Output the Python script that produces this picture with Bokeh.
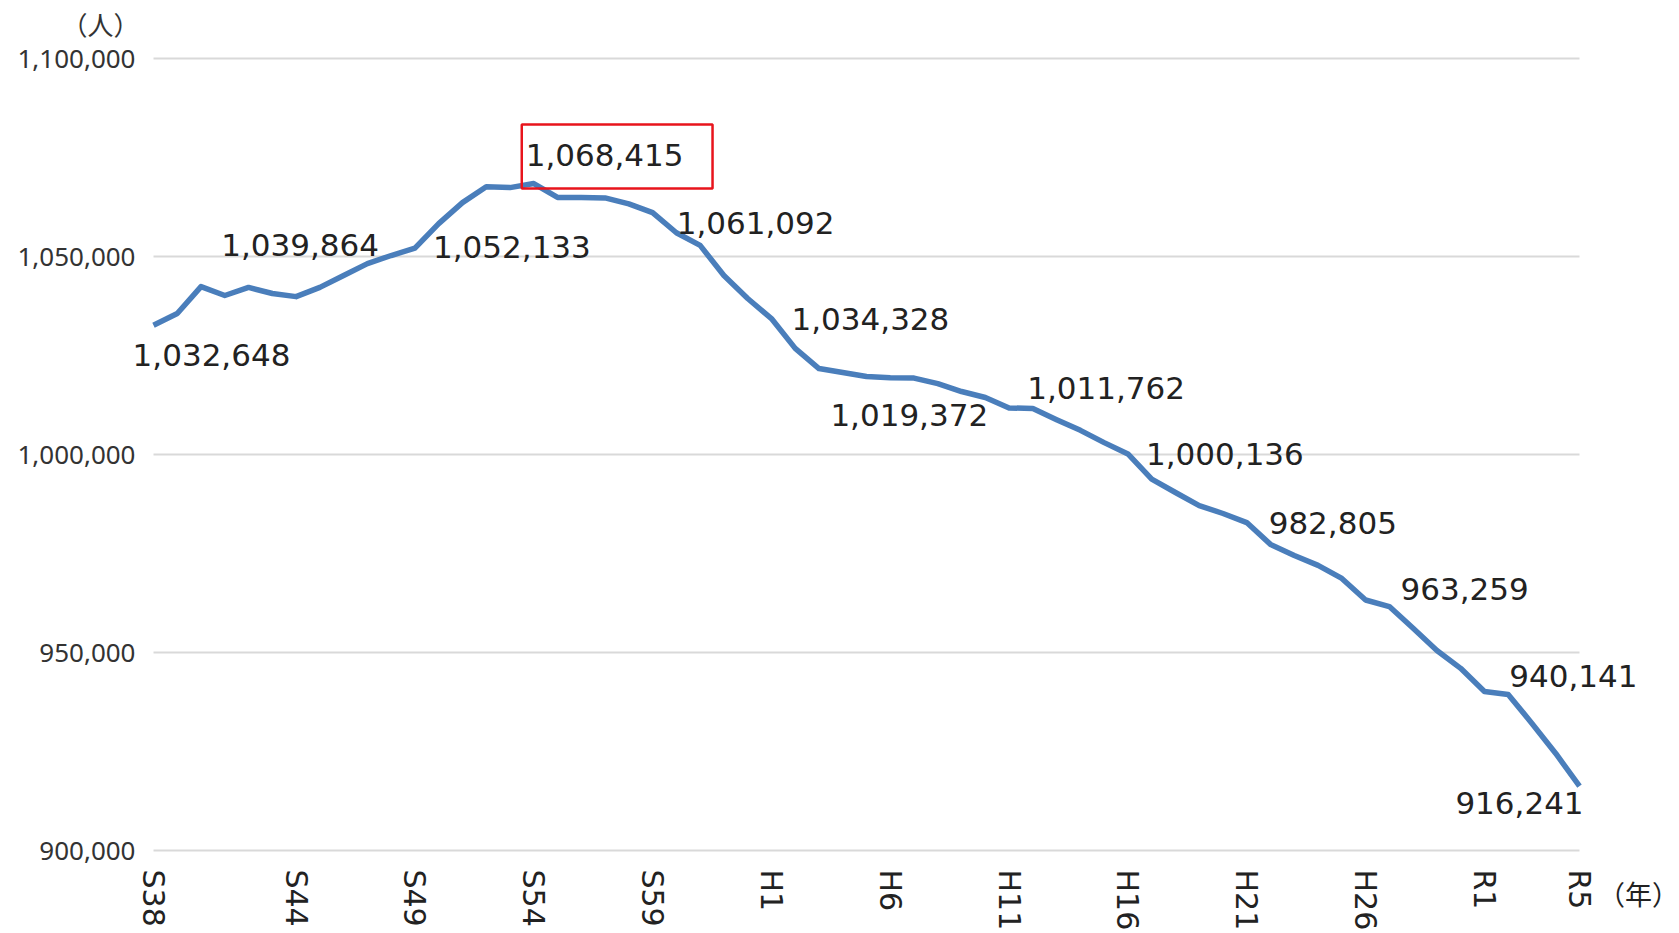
import math
from bokeh.plotting import figure
from bokeh.models import (ColumnDataSource, Range1d, FixedTicker, NumeralTickFormatter,
                          LabelSet, Label)
from bokeh.core.properties import value
from bokeh.embed import file_html
from bokeh.resources import INLINE

# ---------------- data ----------------
years = list(range(1963, 2024))
population = [
    1032648, 1035600, 1042400, 1040150, 1042200, 1040650, 1039864, 1042200, 1045200, 1048200,
    1050250, 1052133, 1058300, 1063600, 1067600, 1067400, 1068415, 1064900, 1064900, 1064800,
    1063300, 1061092, 1056000, 1052800, 1045200, 1039400, 1034328, 1026800, 1021700, 1020700,
    1019700, 1019372, 1019300, 1017900, 1015900, 1014400, 1011762, 1011600, 1008800, 1006100,
    1003000, 1000136, 993800, 990400, 987100, 985100, 982805, 977300, 974500, 972000,
    968700, 963259, 961600, 956100, 950500, 946000, 940141, 939400, 932100, 924500,
    916241,
]
tick_years = [1963, 1969, 1974, 1979, 1984, 1989, 1994, 1999, 2004, 2009, 2014, 2019, 2023]
tick_labels = ["S38", "S44", "S49", "S54", "S59", "H1", "H6", "H11", "H16", "H21", "H26", "R1", "R5"]
y_ticks = [900000, 950000, 1000000, 1050000, 1100000]
y_unit = "（人）"
x_unit = "（年）"

# labelled years (the peak is drawn separately with a red box)
label_years = [1963, 1969, 1974, 1984, 1989, 1994, 1999, 2004, 2009, 2014, 2019, 2023]
peak_year = 1979

# label placement (screen px offsets from the point)
label_dx = [58, 4, 97, 103, 99, 19, 97, 97, 86, 99, 89, -60]
label_dy = [-30, 52, 1, -10, 0, -37, 20, 0, 0, 11, 16, -17]

# ---------------- layout (pixels) ----------------
W, H = 1679, 932
PX_LEFT, PX_RIGHT = 153, 1579      # pixel x of first / last year
PX_TOP, PX_BOTTOM = 58, 850        # pixel y of top / bottom y tick
x0, x1 = years[0], years[-1]
v0, v1 = y_ticks[0], y_ticks[-1]
xs = (PX_RIGHT - PX_LEFT) / (x1 - x0)
ys = (PX_BOTTOM - PX_TOP) / (v1 - v0)


def px_x(px):
    return x0 + (px - PX_LEFT) / xs


def px_y(py):
    return v0 + (PX_BOTTOM - py) / ys


FONT = "DejaVu Sans"
p = figure(frame_width=W, frame_height=H,
           min_border_left=0, min_border_right=0, min_border_top=0, min_border_bottom=0,
           x_range=Range1d(px_x(0), px_x(W)), y_range=Range1d(px_y(H), px_y(0)),
           output_backend="svg", toolbar_location=None)
p.outline_line_color = None
p.background_fill_color = "white"
p.border_fill_color = "white"

p.xgrid.grid_line_color = None
p.ygrid.grid_line_color = None

# horizontal gridlines spanning the data years only
grid_src = ColumnDataSource(dict(y=y_ticks, xa=[x0] * len(y_ticks), xb=[x1] * len(y_ticks)))
p.segment(x0="xa", y0="y", x1="xb", y1="y", source=grid_src,
          line_color="#d9d9d9", line_width=2)

p.yaxis.fixed_location = x0
p.yaxis.ticker = FixedTicker(ticks=y_ticks)
p.yaxis.formatter = NumeralTickFormatter(format="0,0")
p.yaxis.axis_line_color = None
p.yaxis.major_tick_line_color = None
p.yaxis.minor_tick_line_color = None
p.yaxis.major_tick_out = 0
p.yaxis.major_tick_in = 0
p.yaxis.major_label_standoff = 18
p.yaxis.major_label_text_font = "Noto Sans"
p.yaxis.major_label_text_font_size = "26px"
p.yaxis.major_label_text_color = "#333333"

p.xaxis.fixed_location = v0
p.xaxis.ticker = FixedTicker(ticks=tick_years)
p.xaxis.major_label_overrides = {y: l for y, l in zip(tick_years, tick_labels)}
p.xaxis.major_label_orientation = -math.pi / 2
p.xaxis.axis_line_color = None
p.xaxis.major_tick_line_color = None
p.xaxis.minor_tick_line_color = None
p.xaxis.major_tick_out = 0
p.xaxis.major_tick_in = 0
p.xaxis.major_label_standoff = 19
p.xaxis.major_label_text_font = FONT
p.xaxis.major_label_text_font_size = "30px"
p.xaxis.major_label_text_color = "#222222"

src = ColumnDataSource(dict(x=years, y=population))
p.line("x", "y", source=src, line_color="#4a7ebb", line_width=5.5, line_join="round")

val = dict(zip(years, population))
lab_src = ColumnDataSource(dict(
    x=label_years,
    y=[val[y] for y in label_years],
    text=[f"{val[y]:,}" for y in label_years],
    dx=label_dx,
    dy=label_dy,
))
p.add_layout(LabelSet(x="x", y="y", text="text", source=lab_src,
                      x_offset="dx", y_offset="dy",
                      text_align="center", text_baseline="middle",
                      text_font=value(FONT), text_font_size=value("31px"),
                      text_color="#222222"))

p.add_layout(Label(x=peak_year, y=val[peak_year], text=f"{val[peak_year]:,}",
                   x_offset=-12, y_offset=27, text_align="left", text_baseline="middle",
                   text_font=FONT, text_font_size="31px", text_color="#222222",
                   border_line_color="#e8141c", border_line_width=2.5,
                   padding=dict(left=4, right=29, top=19, bottom=23)))

p.add_layout(Label(x=px_x(100), y=px_y(23), text=y_unit,
                   text_align="center", text_baseline="middle",
                   text_font="Noto Sans CJK JP", text_font_size="26px", text_color="#333333"))
p.add_layout(Label(x=px_x(1638), y=px_y(893), text=x_unit,
                   text_align="center", text_baseline="middle",
                   text_font="Noto Sans CJK JP", text_font_size="27px", text_color="#222222"))

open("out.html", "w").write(file_html(p, INLINE))
